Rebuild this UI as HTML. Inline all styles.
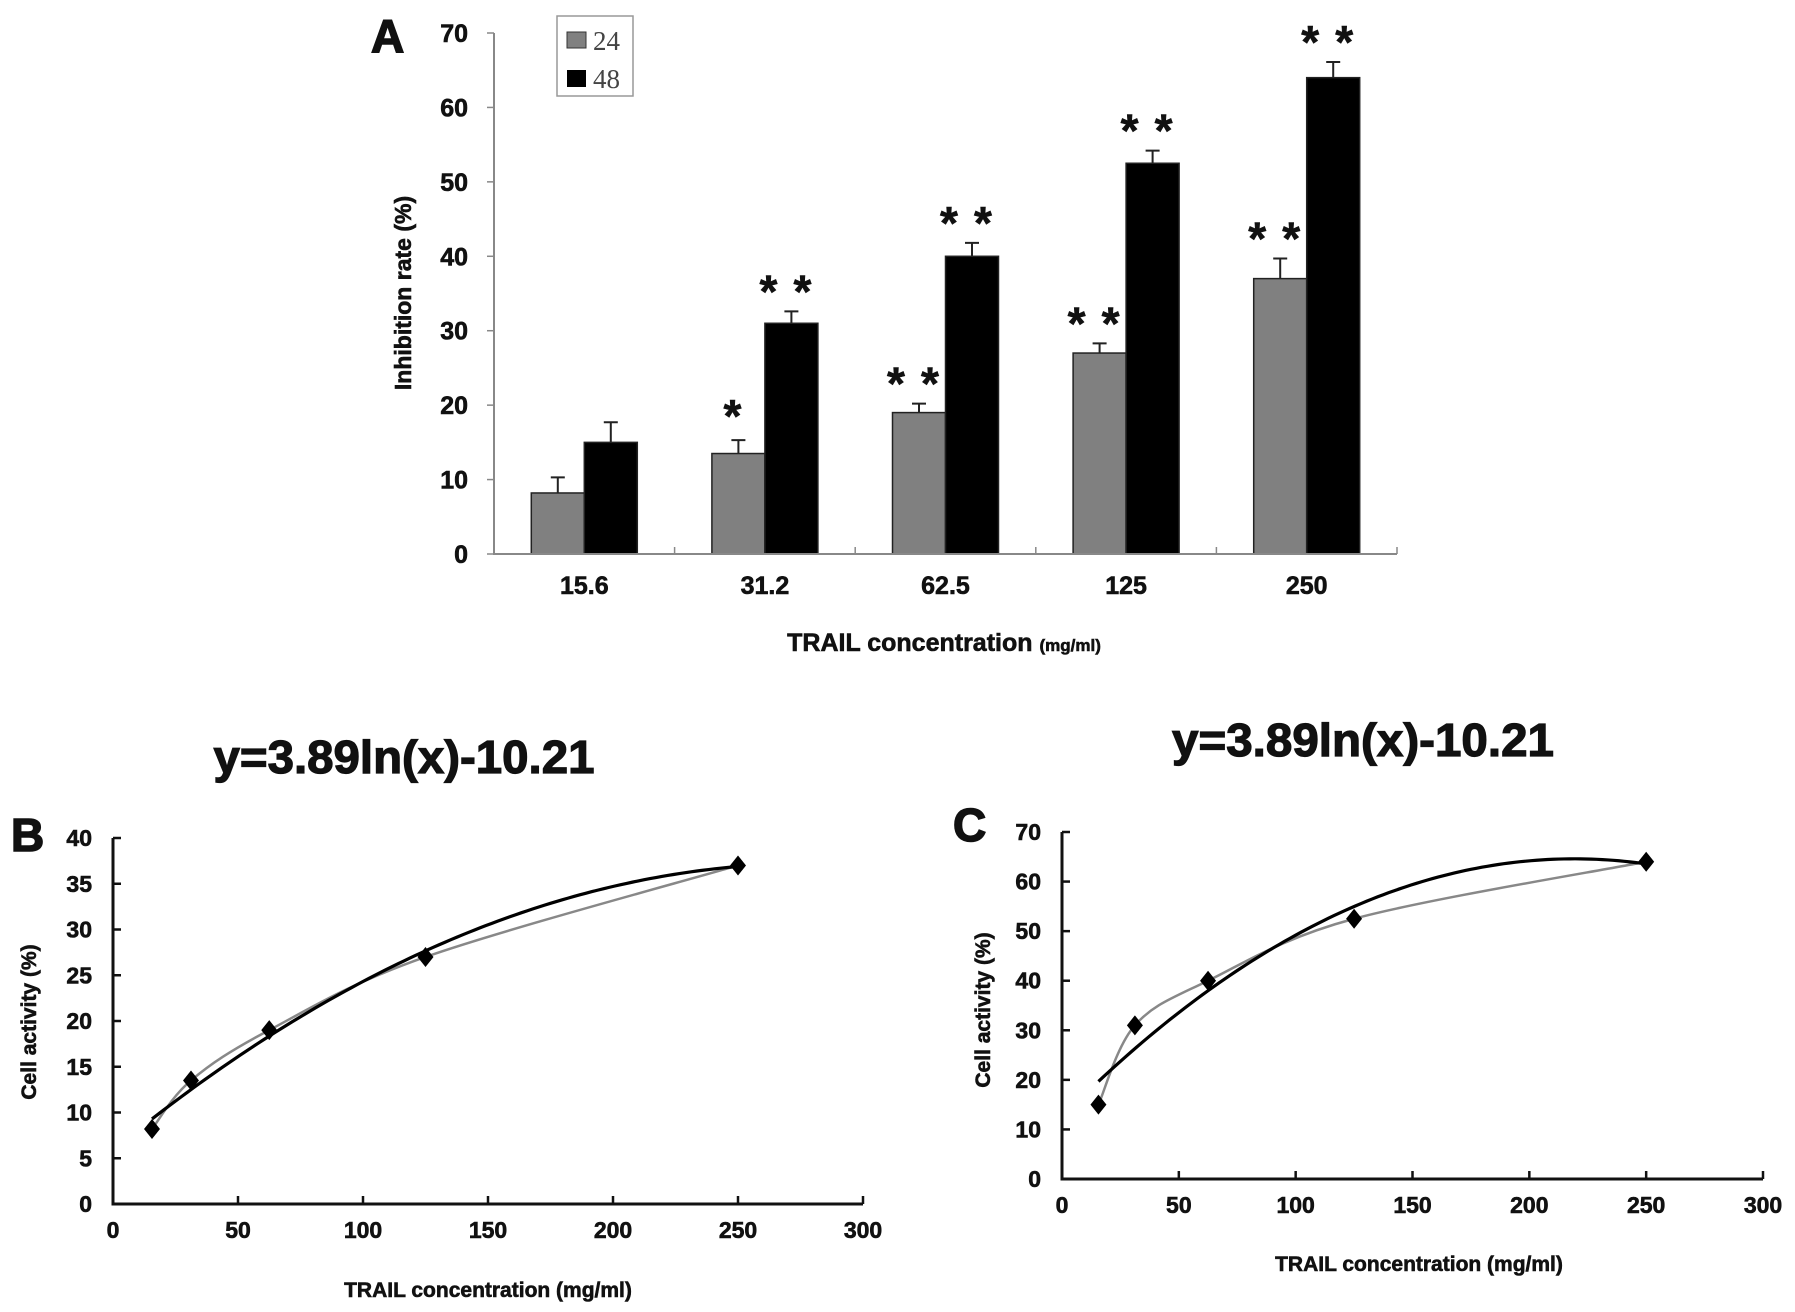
<!DOCTYPE html>
<html><head><meta charset="utf-8"><style>
body{margin:0;background:#fff}
svg{display:block}
text{font-family:"Liberation Sans",sans-serif;font-weight:bold;fill:#111;stroke:#111;stroke-width:0.6}
</style></head><body>
<svg id="s" width="1795" height="1312" viewBox="0 0 1795 1312" xmlns="http://www.w3.org/2000/svg">
<text x="371" y="52" font-size="46" style="stroke-width:1.5">A</text>
<text x="11" y="851" font-size="46" style="stroke-width:1.5">B</text>
<text x="953" y="841" font-size="46" style="stroke-width:1.5">C</text>
<text x="404" y="773" font-size="46" text-anchor="middle" textLength="381" lengthAdjust="spacingAndGlyphs" style="stroke-width:1.2">y=3.89ln(x)-10.21</text>
<text x="1363" y="756" font-size="46" text-anchor="middle" textLength="382" lengthAdjust="spacingAndGlyphs" style="stroke-width:1.2">y=3.89ln(x)-10.21</text>
<text transform="translate(411,293) rotate(-90)" font-size="23" text-anchor="middle">Inhibition rate (%)</text>
<text x="944" y="651" font-size="25" text-anchor="middle">TRAIL concentration <tspan font-size="17">(mg/ml)</tspan></text>
<text transform="translate(36,1022) rotate(-90)" font-size="21" text-anchor="middle">Cell activity (%)</text>
<text x="488" y="1297" font-size="21" text-anchor="middle">TRAIL concentration (mg/ml)</text>
<text transform="translate(990,1010) rotate(-90)" font-size="21" text-anchor="middle">Cell activity (%)</text>
<text x="1419" y="1271" font-size="21" text-anchor="middle">TRAIL concentration (mg/ml)</text>
<g>
<rect x="557" y="16" width="76" height="80" fill="#fff" stroke="#999" stroke-width="1.5"/>
<rect x="567" y="32" width="19" height="16" fill="#808080" stroke="#333"/>
<text x="593" y="50" font-size="27" style="font-family:'Liberation Serif',serif;font-weight:normal;fill:#444;stroke:none">24</text>
<rect x="567" y="70" width="19" height="17" fill="#000"/>
<text x="593" y="88" font-size="27" style="font-family:'Liberation Serif',serif;font-weight:normal;fill:#444;stroke:none">48</text>
</g>
<g id="ga"></g><g id="gb"></g><g id="gc"></g>
</svg>
<script>
const categories=["15.6","31.2","62.5","125","250"];
const values24=[8.2,13.5,19,27,37];
const err24=[2.1,1.8,1.2,1.3,2.7];
const values48=[15,31,40,52.5,64];
const err48=[2.7,1.6,1.8,1.7,2.1];
const stars24=[0,1,2,2,2];
const stars48=[0,2,2,2,2];
const yTicksA=[0,10,20,30,40,50,60,70];
const concX=[15.6,31.2,62.5,125,250];
const activityB=[8.2,13.5,19,27,37];
const activityC=[15,31,40,52.5,64];
const xTicksBC=[0,50,100,150,200,250,300];
const yTicksB=[0,5,10,15,20,25,30,35,40];
const yTicksC=[0,10,20,30,40,50,60,70];
const NS="http://www.w3.org/2000/svg";
function mk(p,t,a){const e=document.createElementNS(NS,t);for(const k in a)e.setAttribute(k,a[k]);p.appendChild(e);return e;}
// Panel A
const ga=document.getElementById('ga');
const ax0=494,ax1=1397,ay0=554,ay1=33,yMaxA=70;
const yA=v=>ay0-(ay0-ay1)*v/yMaxA;
const gw=(ax1-ax0)/categories.length, bw=53;
yTicksA.forEach(t=>{
 const l=mk(ga,'line',{x1:ax0-7,x2:ax0,y1:yA(t),y2:yA(t),stroke:'#888','stroke-width':1.5});
 
 const tx=mk(ga,'text',{x:ax0-26,y:yA(t)+9,'font-size':25,'text-anchor':'end'});tx.textContent=t;
 
});
for(let i=0;i<=categories.length;i++){
 const l=mk(ga,'line',{x1:ax0+gw*i,x2:ax0+gw*i,y1:ay0,y2:ay0-7,stroke:'#888','stroke-width':1.5});
 
}
categories.forEach((c,i)=>{
 const cx=ax0+gw*(i+0.5);
 [[values24,err24,'#808080',cx-bw,stars24,'24'],[values48,err48,'#000',cx,stars48,'48']].forEach(([v,e,col,x,st,nm])=>{
  const r=mk(ga,'rect',{x:x,y:yA(v[i]),width:bw,height:ay0-yA(v[i]),fill:col,stroke:'#222','stroke-width':1.5});
  
  const ex=x+bw/2;
  const el=mk(ga,'path',{d:`M${ex},${yA(v[i])}V${yA(v[i]+e[i])}M${ex-7},${yA(v[i]+e[i])}H${ex+7}`,stroke:'#222','stroke-width':2,fill:'none'});
  
  const n=st[i];
  for(let k=0;k<n;k++){
   const sx=n===1?ex-6:ex-6+(k?17:-17);
   const s=mk(ga,'text',{x:sx,y:yA(v[i]+e[i])+(n===1?-8:-4),'font-size':46,'text-anchor':'middle'});s.textContent='*';
   
  }
 });
 const tl=mk(ga,'text',{x:cx,y:594,'font-size':25,'text-anchor':'middle'});tl.textContent=c;
 
});
const axA=mk(ga,'path',{d:`M${ax0},${ay1}V${ay0}H${ax1}`,stroke:'#888','stroke-width':2,fill:'none'});

function quadFit(xs,ys){let S=[0,0,0,0,0],T=[0,0,0];xs.forEach((x,i)=>{for(let k=0;k<5;k++)S[k]+=x**k;for(let k=0;k<3;k++)T[k]+=ys[i]*x**k;});
 const M=[[S[0],S[1],S[2],T[0]],[S[1],S[2],S[3],T[1]],[S[2],S[3],S[4],T[2]]];
 for(let i=0;i<3;i++){for(let j=i+1;j<3;j++){const f=M[j][i]/M[i][i];for(let k=i;k<4;k++)M[j][k]-=f*M[i][k];}}
 const c=[0,0,0];for(let i=2;i>=0;i--){let s=M[i][3];for(let k=i+1;k<3;k++)s-=M[i][k]*c[k];c[i]=s/M[i][i];}return c;}
function panel(g,pre,x0,x1,y0,y1,yMax,yTicks,ys){
 const X=v=>x0+(x1-x0)*v/300, Y=v=>y0-(y0-y1)*v/yMax;
 yTicks.forEach(t=>{const l=mk(g,'line',{x1:x0+8,x2:x0,y1:Y(t),y2:Y(t),stroke:'#111','stroke-width':2.5});
  
  const tx=mk(g,'text',{x:x0-21,y:Y(t)+8,'font-size':23,'text-anchor':'end'});tx.textContent=t;
  });
 xTicksBC.forEach(t=>{const l=mk(g,'line',{x1:X(t),x2:X(t),y1:y0,y2:y0-8,stroke:'#111','stroke-width':2.5});
  
  const tx=mk(g,'text',{x:X(t),y:y0+34,'font-size':23,'text-anchor':'middle'});tx.textContent=t;
  });
 const ax=mk(g,'path',{d:`M${x0},${y1}V${y0}H${x1}`,stroke:'#111','stroke-width':3,fill:'none'});
 
 const P=concX.map((x,i)=>[X(x),Y(ys[i])]);let d=`M${P[0][0]},${P[0][1]}`;
 for(let i=0;i<P.length-1;i++){const p0=P[Math.max(0,i-1)],p1=P[i],p2=P[i+1],p3=P[Math.min(P.length-1,i+2)];
  d+=`C${p1[0]+(p2[0]-p0[0])/6},${p1[1]+(p2[1]-p0[1])/6} ${p2[0]-(p3[0]-p1[0])/6},${p2[1]-(p3[1]-p1[1])/6} ${p2[0]},${p2[1]}`;}
 const gl=mk(g,'path',{d:d,stroke:'#888','stroke-width':2.5,fill:'none'});
 
 const c=quadFit(concX,ys);let fd='';
 for(let i=0;i<=100;i++){const x=concX[0]+(concX[concX.length-1]-concX[0])*i/100;const v=c[0]+c[1]*x+c[2]*x*x;fd+=(i?'L':'M')+X(x)+','+Y(v);}
 const fl=mk(g,'path',{d:fd,stroke:'#000','stroke-width':3.2,fill:'none'});
 
 P.forEach(p=>{const m=mk(g,'path',{d:`M${p[0]},${p[1]-10}L${p[0]+8},${p[1]}L${p[0]},${p[1]+10}L${p[0]-8},${p[1]}Z`,fill:'#000'});
  });
}
panel(document.getElementById('gb'),'b',113,863,1204,838,40,yTicksB,activityB);
panel(document.getElementById('gc'),'c',1062,1763,1179,832,70,yTicksC,activityC);
</script>
</body></html>
